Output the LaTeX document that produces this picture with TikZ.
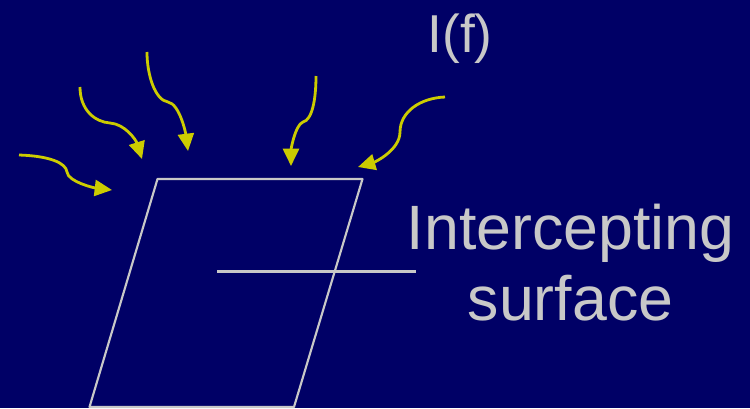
\documentclass[tikz,border=0pt]{standalone}
\usepackage{fontspec}
\setmainfont{Liberation Sans}
\usetikzlibrary{arrows.meta}
\definecolor{bgblue}{RGB}{0,0,102}
\definecolor{raycol}{RGB}{204,204,0}
\definecolor{txtgray}{RGB}{200,200,200}
\tikzset{
  ray/.style={draw=raycol, line width=2.1pt, -{Triangle[length=13pt,width=12pt]}},
  surf/.style={draw=txtgray, line width=1.6pt},
  label/.style={text=txtgray, inner sep=0pt, anchor=base}
}
\begin{document}
\begin{tikzpicture}[x=0.75pt,y=-0.75pt]
\fill[bgblue] (0,0) rectangle (750,408);
\useasboundingbox (0,0) rectangle (750,408);
% surface
\coordinate (tl) at (157.5,179);
\coordinate (tr) at (362.5,179);
\coordinate (br) at (294,407);
\coordinate (bl) at (89.5,407);
\draw[surf, line join=round] (tl) -- (tr) -- (br) -- (bl) -- cycle;
\coordinate (nl) at (217,271.5);
\coordinate (nr) at (416,271.5);
\draw[surf] (nl) -- (nr);
% labels
\node[label, font=\fontsize{40}{40}\selectfont] (If) at (460,52) {I(f)};
\node[label, font=\fontsize{47}{47}\selectfont] (int) at (570.5,249) {Intercepting};
\node[label, font=\fontsize{47}{47}\selectfont] (surfl) at (570.5,320) {surface};
% rays
\coordinate (a0) at (19,155);   \coordinate (a1) at (112,190);
\coordinate (b0) at (80,87);    \coordinate (b1) at (142,159);
\coordinate (c0) at (147,52);   \coordinate (c1) at (188,151);
\coordinate (d0) at (316,76);   \coordinate (d1) at (291,166);
\coordinate (e0) at (445,97);   \coordinate (e1) at (358,167);
\draw[ray] (a0) .. controls (50,156) and (66,163) .. (67,172) .. controls (68,182) and (95,188) .. (a1);
\draw[ray] (b0) .. controls (80,110) and (95,122) .. (110,123) .. controls (125,124) and (136,140) .. (b1);
\draw[ray] (c0) .. controls (147,75) and (155,100) .. (168,102) .. controls (180,104) and (186,135) .. (c1);
\draw[ray] (d0) .. controls (316,100) and (312,120) .. (303,122) .. controls (295,125) and (291,150) .. (d1);
\draw[ray] (e0) .. controls (420,98) and (400,112) .. (400,132) .. controls (400,150) and (375,162) .. (e1);
\end{tikzpicture}
\end{document}
